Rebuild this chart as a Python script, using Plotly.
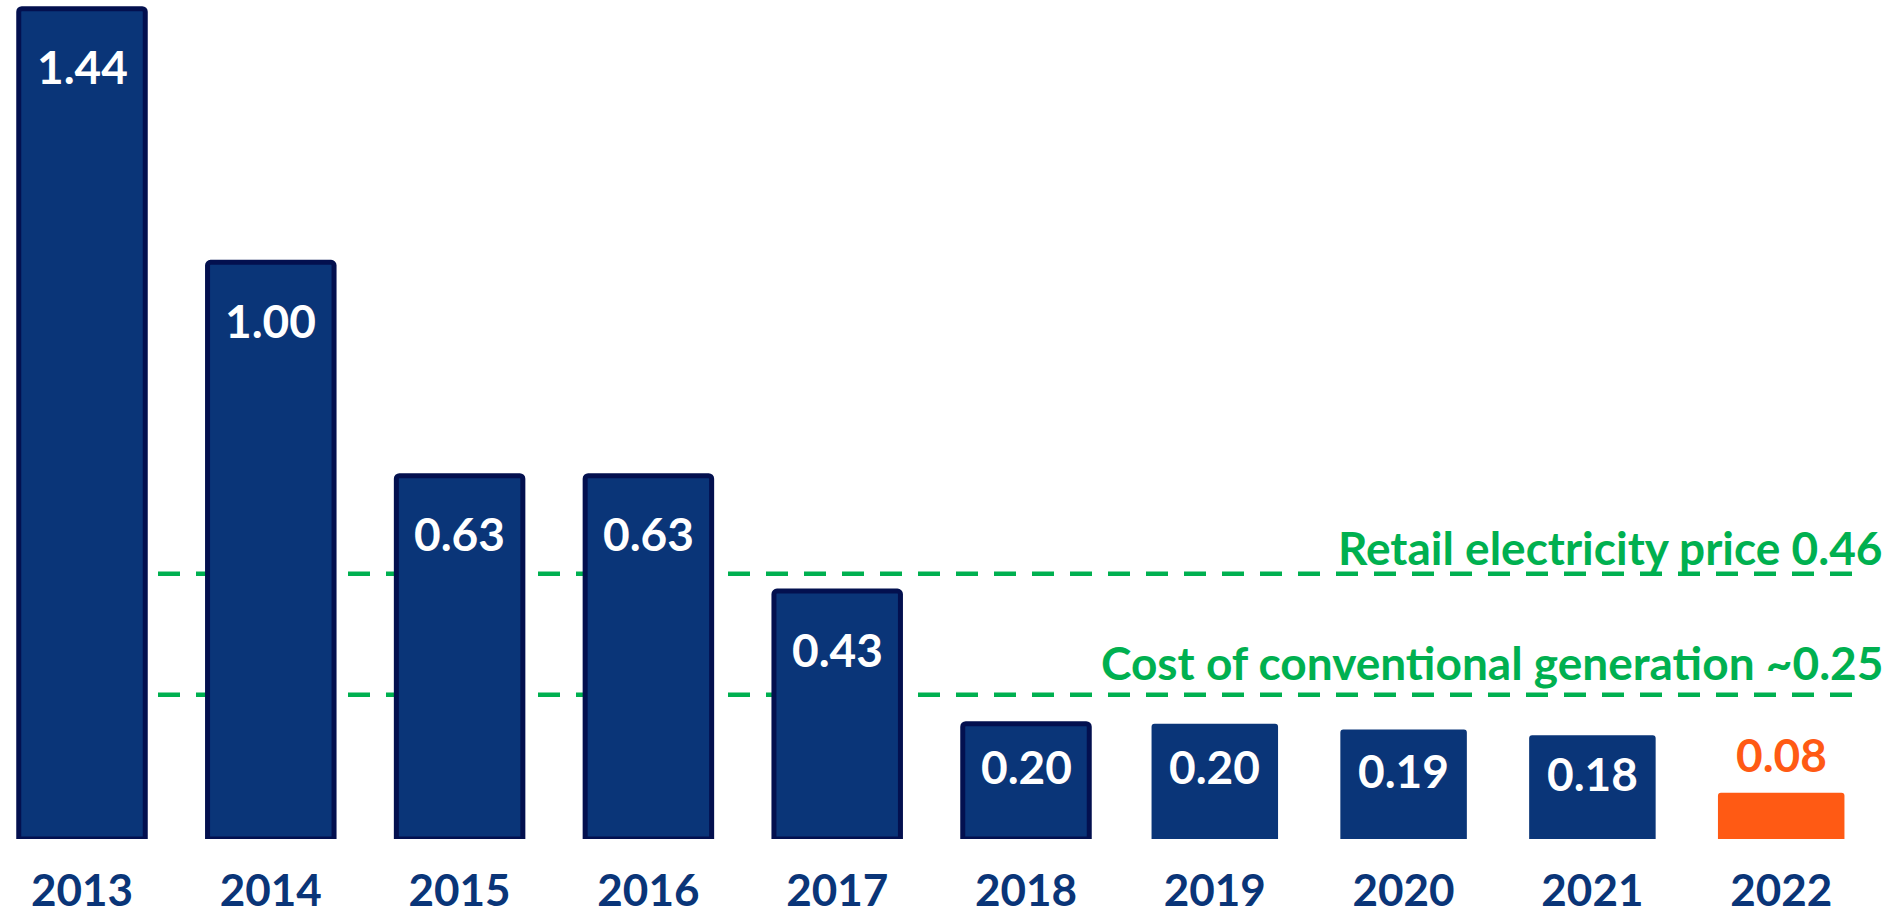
import plotly.graph_objects as go

years = ["2013", "2014", "2015", "2016", "2017", "2018", "2019", "2020", "2021", "2022"]
values = [1.44, 1.00, 0.63, 0.63, 0.43, 0.20, 0.20, 0.19, 0.18, 0.08]
value_labels = ["1.44", "1.00", "0.63", "0.63", "0.43", "0.20", "0.20", "0.19", "0.18", "0.08"]
retail_price = 0.46
retail_label = "Retail electricity price 0.46"
conventional_cost = 0.25
conventional_label = "Cost of conventional generation ~0.25"

NAVY = "#0a3578"
OUTLINE = "#03104f"
ORANGE = "#ff5a14"
GREEN = "#00b050"
FONT = "Lato"

W, H = 1893, 915
MB = 74
PX_PER_UNIT = 578.0
ymax = (H - MB) / PX_PER_UNIT

n = len(years)
fill_colors = [ORANGE if i == n - 1 else NAVY for i in range(n)]
outline_w = [5 if i < 6 else 0 for i in range(n)]

fig = go.Figure()
fig.add_trace(go.Bar(
    x=years, y=values, width=0.67,
    marker=dict(color=fill_colors, line=dict(color=OUTLINE, width=outline_w)),
    hoverinfo="x+y",
))

annotations = []
for i, (v, lab) in enumerate(zip(values, value_labels)):
    if i == n - 1:
        annotations.append(dict(x=i, xref="x", y=v, text=lab, showarrow=False, yanchor="middle",
                                yshift=38, font=dict(family=FONT, size=46, color=ORANGE, weight="bold")))
    else:
        shift = -min(58, 0.37 * v * PX_PER_UNIT)
        annotations.append(dict(x=i, xref="x", y=v, text=lab, showarrow=False, yanchor="middle",
                                yshift=shift, font=dict(family=FONT, size=46, color="white", weight="bold")))

annotations.append(dict(x=0.996, xref="paper", y=retail_price, text=retail_label, showarrow=False,
                        xanchor="right", yanchor="middle", yshift=26,
                        font=dict(family=FONT, size=46, color=GREEN, weight="bold")))
annotations.append(dict(x=0.996, xref="paper", y=conventional_cost, text=conventional_label, showarrow=False,
                        xanchor="right", yanchor="middle", yshift=32,
                        font=dict(family=FONT, size=46, color=GREEN, weight="bold")))

spacing = 188.8
first_center = 82.0
r0 = -first_center / spacing
r1 = r0 + W / spacing
line_end = r0 + 1857 / spacing

shapes = []
for yv in (retail_price, conventional_cost):
    shapes.append(dict(type="line", xref="x", yref="y", x0=0.0, x1=line_end, y0=yv, y1=yv,
                       line=dict(color=GREEN, width=4.5, dash="22px,16px"), layer="below"))

fig.update_layout(
    width=W, height=H,
    margin=dict(l=0, r=0, t=0, b=MB),
    paper_bgcolor="white", plot_bgcolor="white",
    showlegend=False,
    barcornerradius=3,
    annotations=annotations,
    shapes=shapes,
    xaxis=dict(type="category", range=[r0, r1], showgrid=False, showline=False, zeroline=False,
               ticks="", ticklabelstandoff=22,
               tickfont=dict(family=FONT, size=44, color=NAVY, weight="bold")),
    yaxis=dict(range=[0, ymax], visible=False, showgrid=False, zeroline=False),
)

fig.write_html("out.html", config={"displayModeBar": False},
               post_script="document.body.style.margin='0';document.body.style.overflow='hidden';")
